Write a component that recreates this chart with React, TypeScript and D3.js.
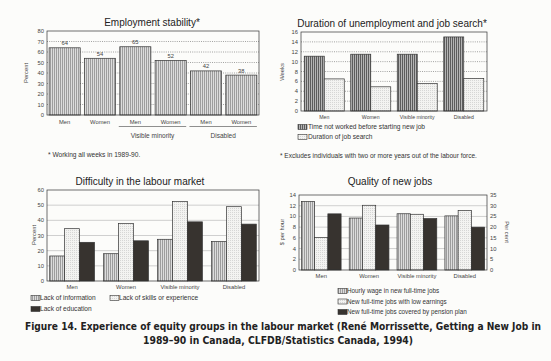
import React from "react";
import * as d3 from "d3";

// ---------- DATA ----------
const stabilityCats = ["Men", "Women", "Men", "Women", "Men", "Women"];
const stabilityVals = [64, 54, 65, 52, 42, 38];
const stabilityGroups = [
  { label: "Visible minority", from: 2, to: 3 },
  { label: "Disabled", from: 4, to: 5 },
];
const stabilityTicks = [0, 10, 20, 30, 40, 50, 60, 70, 80];

const durationCats = ["Men", "Women", "Visible minority", "Disabled"];
const timeNotWorked = [11.1, 11.5, 11.5, 15.0];
const jobSearch = [6.5, 4.9, 5.6, 6.6];
const durationTicks = [0, 2, 4, 6, 8, 10, 12, 14, 16];
const durationSeries = ["Time not worked before starting new job", "Duration of job search"];

const difficultyCats = ["Men", "Women", "Visible minority", "Disabled"];
const lackInfo = [16.5, 18, 27.5, 26];
const lackSkills = [34.5, 38, 52.5, 49];
const lackEducation = [25.5, 26.5, 39, 37.5];
const difficultyTicks = [0, 10, 20, 30, 40, 50, 60];
const difficultySeries = ["Lack of information", "Lack of skills or experience", "Lack of education"];

const qualityCats = ["Men", "Women", "Visible minority", "Disabled"];
const hourlyWage = [12.8, 9.7, 10.5, 10.1]; // $ per hour (left)
const lowEarnings = [15.2, 30.2, 26, 27.8]; // per cent (right)
const pensionPlan = [26.2, 21, 24, 20]; // per cent (right)
const qualityLeftTicks = [0, 2, 4, 6, 8, 10, 12, 14];
const qualityRightTicks = [0, 5, 10, 15, 20, 25, 30, 35];
const qualitySeries = [
  "Hourly wage in new full-time jobs",
  "New full-time jobs with low earnings",
  "New full-time jobs covered by pension plan",
];

const captionLines = [
  "Figure 14. Experience of equity groups in the labour market (René Morrissette, Getting a New Job in",
  "1989–90 in Canada, CLFDB/Statistics Canada, 1994)",
];

const FONT = "'Liberation Sans', Arial, Helvetica, sans-serif";
const DARK = "#37332f";
const AX = "#444";

function Defs() {
  return (
    <defs>
      <pattern id="stripeLight" width="2" height="4" patternUnits="userSpaceOnUse">
        <rect width="2" height="4" fill="#dcdcdc" />
        <rect x="0" width="0.8" height="4" fill="#8e8e8e" />
      </pattern>
      <pattern id="stripeDark" width="2" height="4" patternUnits="userSpaceOnUse">
        <rect width="2" height="4" fill="#b4b4b4" />
        <rect x="0" width="1" height="4" fill="#5c5c5c" />
      </pattern>
      <pattern id="dots" width="2" height="2" patternUnits="userSpaceOnUse">
        <rect width="2" height="2" fill="#f3f3f1" />
        <rect x="0" y="0" width="0.8" height="0.8" fill="#c6c6c6" />
      </pattern>
    </defs>
  );
}

function Swatch({ x, y, fill }: { x: number; y: number; fill: string }) {
  return <rect x={x} y={y - 4.5} width={9} height={5} fill={fill} stroke="#333" strokeWidth={0.6} />;
}

function YAxis({ scale, ticks, x, anchor = "end", dx = -3 }: any) {
  return (
    <g>
      {ticks.map((t: number) => (
        <text key={t} x={x + dx} y={scale(t) + 2} fontSize={5.8} textAnchor={anchor} fill={AX} fontFamily={FONT}>
          {t}
        </text>
      ))}
    </g>
  );
}

function Grid({ scale, ticks, x0, x1, dotted }: any) {
  return (
    <g>
      {ticks.slice(1, -1).map((t: number) => (
        <line
          key={t}
          x1={x0}
          x2={x1}
          y1={scale(t)}
          y2={scale(t)}
          stroke={dotted ? "#666" : "#bbb"}
          strokeWidth={dotted ? 0.6 : 0.7}
          strokeDasharray={dotted ? "1 1.2" : undefined}
        />
      ))}
    </g>
  );
}

function Panel1() {
  const x0 = 47, x1 = 259, yT = 31, yB = 115;
  const x = d3.scaleBand<number>().domain(d3.range(stabilityVals.length)).range([x0, x1]).paddingInner(0.12).paddingOuter(0.06);
  const y = d3.scaleLinear().domain([0, 80]).range([yB, yT]);
  return (
    <g>
      <text x={152} y={26} fontSize={10} textAnchor="middle" fontFamily={FONT} fill="#222">Employment stability*</text>
      <Grid scale={y} ticks={stabilityTicks} x0={x0} x1={x1} dotted />
      {stabilityVals.map((v, i) => (
        <g key={i}>
          <rect x={x(i)} y={y(v)} width={x.bandwidth()} height={yB - y(v)} fill="url(#stripeLight)" stroke="#333" strokeWidth={0.7} />
          <text x={x(i)! + x.bandwidth() / 2} y={y(v) - 2.5} fontSize={5.8} textAnchor="middle" fill={AX} fontFamily={FONT}>{v}</text>
          <text x={x(i)! + x.bandwidth() / 2} y={124} fontSize={5.8} textAnchor="middle" fill={AX} fontFamily={FONT}>{stabilityCats[i]}</text>
        </g>
      ))}
      <rect x={x0} y={yT} width={x1 - x0} height={yB - yT} fill="none" stroke="#333" strokeWidth={0.7} />
      <YAxis scale={y} ticks={stabilityTicks} x={x0} />
      {stabilityGroups.map((g) => {
        const a = x(g.from)! - 1, b = x(g.to)! + x.bandwidth();
        return (
          <g key={g.label}>
            <line x1={a} x2={b} y1={126.5} y2={126.5} stroke="#444" strokeWidth={0.6} />
            <text x={(a + b) / 2} y={138} fontSize={6.5} textAnchor="middle" fill={AX} fontFamily={FONT}>{g.label}</text>
          </g>
        );
      })}
      <text transform="translate(28,73) rotate(-90)" fontSize={5.8} textAnchor="middle" fill={AX} fontFamily={FONT}>Percent</text>
      <text x={48} y={157} fontSize={6.6} fill="#333" fontFamily={FONT}>* Working all weeks in 1989-90.</text>
    </g>
  );
}

function Panel2() {
  const x0 = 301, x1 = 487, yT = 32, yB = 111;
  const x = d3.scaleBand<string>().domain(durationCats).range([x0, x1]).paddingInner(0.14).paddingOuter(0.07);
  const y = d3.scaleLinear().domain([0, 16]).range([yB, yT]);
  const bw = x.bandwidth() / 2;
  return (
    <g>
      <text x={392} y={27} fontSize={10} textAnchor="middle" fontFamily={FONT} fill="#222">Duration of unemployment and job search*</text>
      <Grid scale={y} ticks={durationTicks} x0={x0} x1={x1} dotted />
      {durationCats.map((c, i) => (
        <g key={c}>
          <rect x={x(c)} y={y(timeNotWorked[i])} width={bw} height={yB - y(timeNotWorked[i])} fill="url(#stripeDark)" stroke="#333" strokeWidth={0.7} />
          <rect x={x(c)! + bw} y={y(jobSearch[i])} width={bw} height={yB - y(jobSearch[i])} fill="url(#dots)" stroke="#333" strokeWidth={0.7} />
          <text x={x(c)! + x.bandwidth() / 2} y={119} fontSize={5.2} textAnchor="middle" fill={AX} fontFamily={FONT}>{c}</text>
        </g>
      ))}
      <rect x={x0} y={yT} width={x1 - x0} height={yB - yT} fill="none" stroke="#333" strokeWidth={0.7} />
      <YAxis scale={y} ticks={durationTicks} x={x0} />
      <text transform="translate(284,72) rotate(-90)" fontSize={5.8} textAnchor="middle" fill={AX} fontFamily={FONT}>Weeks</text>
      <Swatch x={298} y={129} fill="url(#stripeDark)" />
      <text x={308} y={129} fontSize={6.6} fill="#333" fontFamily={FONT}>{durationSeries[0]}</text>
      <Swatch x={298} y={139} fill="url(#dots)" />
      <text x={308} y={139} fontSize={6.6} fill="#333" fontFamily={FONT}>{durationSeries[1]}</text>
      <text x={280} y={158} fontSize={6.5} fill="#333" fontFamily={FONT}>* Excludes individuals with two or more years out of the labour force.</text>
    </g>
  );
}

function Panel3() {
  const x0 = 47, x1 = 259, yT = 190, yB = 281;
  const x = d3.scaleBand<string>().domain(difficultyCats).range([x0, x1]).paddingInner(0.17).paddingOuter(0.05);
  const y = d3.scaleLinear().domain([0, 60]).range([yB, yT]);
  const bw = x.bandwidth() / 3;
  const series = [lackInfo, lackSkills, lackEducation];
  const fills = ["url(#stripeLight)", "url(#dots)", DARK];
  return (
    <g>
      <text x={140} y={185} fontSize={10} textAnchor="middle" fontFamily={FONT} fill="#222">Difficulty in the labour market</text>
      <Grid scale={y} ticks={difficultyTicks} x0={x0} x1={x1} />
      {difficultyCats.map((c, i) => (
        <g key={c}>
          {series.map((s, k) => (
            <rect key={k} x={x(c)! + k * bw} y={y(s[i])} width={bw} height={yB - y(s[i])} fill={fills[k]} stroke="#333" strokeWidth={0.7} />
          ))}
          <text x={x(c)! + x.bandwidth() / 2} y={289} fontSize={5.8} textAnchor="middle" fill={AX} fontFamily={FONT}>{c}</text>
        </g>
      ))}
      <rect x={x0} y={yT} width={x1 - x0} height={yB - yT} fill="none" stroke="#333" strokeWidth={0.7} />
      <YAxis scale={y} ticks={difficultyTicks} x={x0} />
      <text transform="translate(36,235) rotate(-90)" fontSize={5.8} textAnchor="middle" fill={AX} fontFamily={FONT}>Percent</text>
      <Swatch x={31} y={300} fill={fills[0]} />
      <text x={40} y={300} fontSize={6.6} fill="#333" fontFamily={FONT}>{difficultySeries[0]}</text>
      <Swatch x={110} y={300} fill={fills[1]} />
      <text x={119} y={300} fontSize={6.6} fill="#333" fontFamily={FONT}>{difficultySeries[1]}</text>
      <Swatch x={31} y={311} fill={fills[2]} />
      <text x={40} y={311} fontSize={6.6} fill="#333" fontFamily={FONT}>{difficultySeries[2]}</text>
    </g>
  );
}

function Panel4() {
  const x0 = 299, x1 = 487, yT = 195, yB = 270;
  const x = d3.scaleBand<string>().domain(qualityCats).range([x0, x1]).paddingInner(0.17).paddingOuter(0.05);
  const yL = d3.scaleLinear().domain([0, 14]).range([yB, yT]);
  const yR = d3.scaleLinear().domain([0, 35]).range([yB, yT]);
  const bw = x.bandwidth() / 3;
  const fills = ["url(#stripeLight)", "url(#dots)", DARK];
  return (
    <g>
      <text x={390} y={185} fontSize={10} textAnchor="middle" fontFamily={FONT} fill="#222">Quality of new jobs</text>
      <Grid scale={yL} ticks={qualityLeftTicks} x0={x0} x1={x1} />
      {qualityCats.map((c, i) => {
        const vals = [yL(hourlyWage[i]), yR(lowEarnings[i]), yR(pensionPlan[i])];
        return (
          <g key={c}>
            {vals.map((vy, k) => (
              <rect key={k} x={x(c)! + k * bw} y={vy} width={bw} height={yB - vy} fill={fills[k]} stroke="#333" strokeWidth={0.7} />
            ))}
            <text x={x(c)! + x.bandwidth() / 2} y={278} fontSize={5.8} textAnchor="middle" fill={AX} fontFamily={FONT}>{c}</text>
          </g>
        );
      })}
      <rect x={x0} y={yT} width={x1 - x0} height={yB - yT} fill="none" stroke="#333" strokeWidth={0.7} />
      <YAxis scale={yL} ticks={qualityLeftTicks} x={x0} />
      <YAxis scale={yR} ticks={qualityRightTicks} x={x1} anchor="start" dx={3} />
      <text transform="translate(284,232) rotate(-90)" fontSize={5.8} textAnchor="middle" fill={AX} fontFamily={FONT}>$ per hour</text>
      <text transform="translate(505,232) rotate(90)" fontSize={5.8} textAnchor="middle" fill={AX} fontFamily={FONT}>Per cent</text>
      {qualitySeries.map((s, k) => (
        <g key={s}>
          <Swatch x={338} y={293 + k * 10.5} fill={fills[k]} />
          <text x={347} y={293 + k * 10.5} fontSize={6.3} fill="#333" fontFamily={FONT}>{s}</text>
        </g>
      ))}
    </g>
  );
}

export default function App() {
  return (
    <svg width={551} height={361} style={{ position: "absolute", left: 0, top: 0, background: "#fcfcfa" }}>
      <Defs />
      <rect width={551} height={361} fill="#fcfcfa" />
      <Panel1 />
      <Panel2 />
      <Panel3 />
      <Panel4 />
      <g fontFamily="'DejaVu Sans Condensed', 'Liberation Sans Narrow', sans-serif" fontWeight="bold" fontSize={9.2} fill="#222">
        <text transform="translate(25,330) scale(1,1.2)" x={0} y={0} textLength={516} lengthAdjust="spacingAndGlyphs">{captionLines[0]}</text>
        <text transform="translate(143,343.5) scale(1,1.2)" x={0} y={0} textLength={270} lengthAdjust="spacingAndGlyphs">{captionLines[1]}</text>
      </g>
    </svg>
  );
}
